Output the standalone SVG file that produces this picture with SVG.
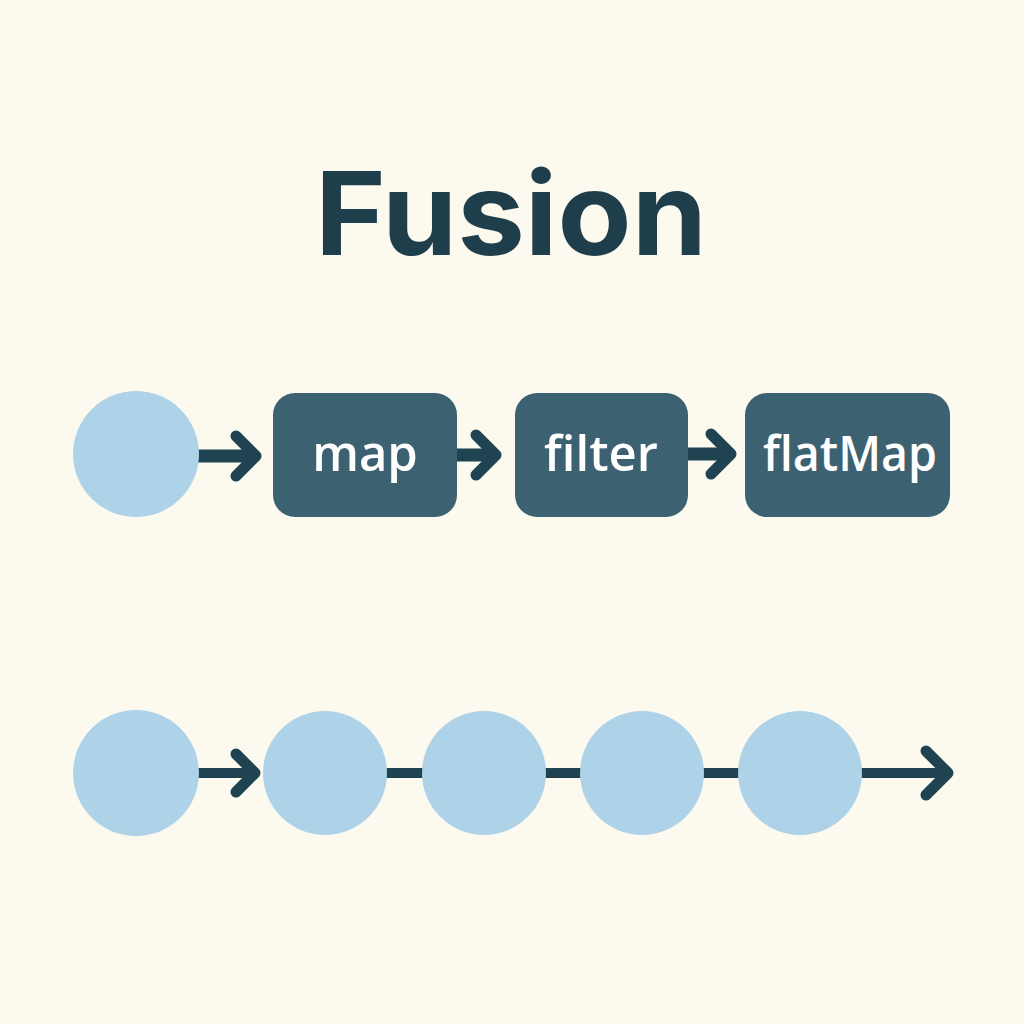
<svg xmlns="http://www.w3.org/2000/svg" width="1024" height="1024" viewBox="0 0 1024 1024">
<style>
.bg{fill:#fcf9ef}
.dot{fill:#aed3e8}
.box{fill:#3c6271}
.lbl{font-family:"Open Sans","Noto Sans",sans-serif;font-weight:600;font-size:49px;fill:#ffffff;text-anchor:middle}
.title{font-family:Inter,"Liberation Sans",sans-serif;font-weight:700;font-size:116px;fill:#1f3e4b;text-anchor:middle}
.ln{stroke:#1f4350;stroke-width:13;fill:none}
.ln2{stroke:#1f4350;stroke-width:10;fill:none}
.hd{stroke:#1f4350;stroke-width:11;fill:none;stroke-linecap:round;stroke-linejoin:round}
</style>
<rect class="bg" x="0" y="0" width="1024" height="1024"/>
<text class="title" x="511" y="255" textLength="392" lengthAdjust="spacingAndGlyphs">Fusion</text>
<g id="connectors">
<line class="ln" x1="196" y1="456" x2="254" y2="456"/>
<polyline class="hd" points="236,436 256,456 236,476"/>
<line class="ln" x1="455" y1="455" x2="494" y2="455"/>
<polyline class="hd" points="476,435 496,455 476,475"/>
<line class="ln" x1="686" y1="454" x2="728" y2="454"/>
<polyline class="hd" points="711,434 731,454 711,474"/>
<line class="ln2" x1="196" y1="773" x2="254" y2="773"/>
<polyline class="hd" points="236,754 255,773 236,792"/>
<line class="ln2" x1="385" y1="773" x2="424" y2="773"/>
<line class="ln2" x1="543" y1="773" x2="582" y2="773"/>
<line class="ln2" x1="701" y1="773" x2="740" y2="773"/>
<line class="ln2" x1="859" y1="773" x2="946" y2="773"/>
<polyline class="hd" points="926,751 948,773 926,795"/>
</g>
<g id="src-top"><circle class="dot" cx="136" cy="454" r="63"/></g>
<g id="map"><rect class="box" x="273" y="393" width="184" height="124" rx="22"/><text class="lbl" x="365" y="471">map</text></g>
<g id="filter"><rect class="box" x="515" y="393" width="173" height="124" rx="22"/><text class="lbl" x="601" y="471">filter</text></g>
<g id="flatMap"><rect class="box" x="745" y="393" width="205" height="124" rx="22"/><text class="lbl" x="850" y="471" textLength="174" lengthAdjust="spacingAndGlyphs">flatMap</text></g>
<g id="src-bottom"><circle class="dot" cx="136" cy="773" r="63"/></g>
<g id="f1"><circle class="dot" cx="325" cy="773" r="62"/></g>
<g id="f2"><circle class="dot" cx="484" cy="773" r="62"/></g>
<g id="f3"><circle class="dot" cx="642" cy="773" r="62"/></g>
<g id="f4"><circle class="dot" cx="800" cy="773" r="62"/></g>
</svg>
